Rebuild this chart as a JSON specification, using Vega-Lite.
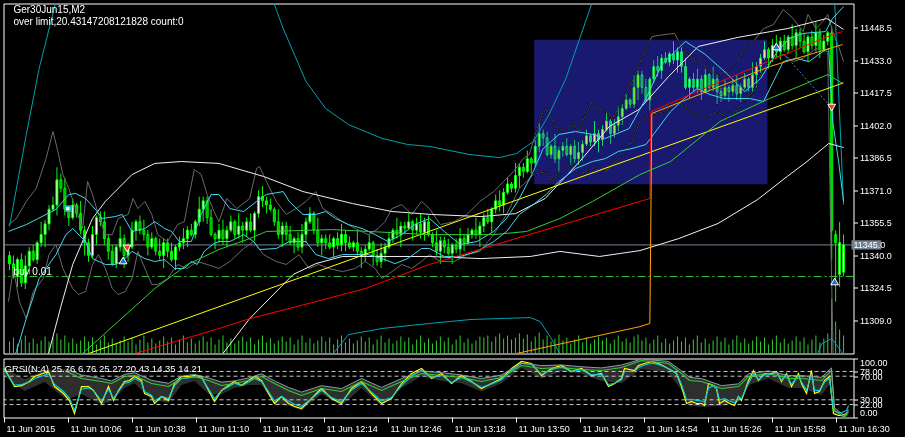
{
"$schema":"https://vega.github.io/schema/vega-lite/v6.json",
"background":"#000000",
"padding":{"left":2.5,"top":2.5,"right":13,"bottom":2},
"spacing":3,
"config":{"view":{"stroke":"#ffffff","strokeWidth":1},"font":"Liberation Sans","axis":{"labelColor":"#ffffff","tickColor":"#ffffff","domainColor":"#ffffff","labelFont":"Liberation Sans","labelFontSize":9,"grid":false,"translate":0,"title":null}},
"resolve":{"scale":{"color":"independent","strokeWidth":"independent"}},
"datasets":{
"C":[
{"i":0,"o":11340,"h":11342,"l":11333,"c":11336,"v":12},{"i":1,"o":11336,"h":11340,"l":11329,"c":11330,"v":16},{"i":2,"o":11330,"h":11339,"l":11325,"c":11338,"v":9},{"i":3,"o":11338,"h":11341,"l":11325,"c":11327,"v":14},{"i":4,"o":11327,"h":11340,"l":11324,"c":11335,"v":18},{"i":5,"o":11335,"h":11344,"l":11331,"c":11342,"v":11},{"i":6,"o":11342,"h":11345,"l":11337,"c":11338,"v":15},{"i":7,"o":11338,"h":11347,"l":11336,"c":11346,"v":10},{"i":8,"o":11346,"h":11356,"l":11344,"c":11350,"v":13},{"i":9,"o":11350,"h":11357,"l":11344,"c":11355,"v":17},
{"i":10,"o":11355,"h":11364,"l":11352,"c":11362,"v":12},{"i":11,"o":11362,"h":11368,"l":11361,"c":11364,"v":16},{"i":12,"o":11364,"h":11382,"l":11359,"c":11376,"v":20},{"i":13,"o":11376,"h":11379,"l":11370,"c":11372,"v":14},{"i":14,"o":11372,"h":11377,"l":11359,"c":11362,"v":18},{"i":15,"o":11362,"h":11364,"l":11354,"c":11358,"v":11},{"i":16,"o":11358,"h":11367,"l":11357,"c":11364,"v":15},{"i":17,"o":11364,"h":11365,"l":11358,"c":11360,"v":10},{"i":18,"o":11360,"h":11366,"l":11350,"c":11352,"v":13},{"i":19,"o":11352,"h":11354,"l":11340,"c":11346,"v":17},
{"i":20,"o":11346,"h":11348,"l":11337,"c":11340,"v":12},{"i":21,"o":11340,"h":11354,"l":11339,"c":11350,"v":16},{"i":22,"o":11350,"h":11359,"l":11345,"c":11358,"v":9},{"i":23,"o":11358,"h":11361,"l":11354,"c":11356,"v":14},{"i":24,"o":11356,"h":11361,"l":11345,"c":11348,"v":18},{"i":25,"o":11348,"h":11350,"l":11338,"c":11342,"v":11},{"i":26,"o":11342,"h":11345,"l":11335,"c":11336,"v":15},{"i":27,"o":11336,"h":11345,"l":11334,"c":11344,"v":10},{"i":28,"o":11344,"h":11354,"l":11342,"c":11348,"v":13},{"i":29,"o":11348,"h":11350,"l":11334,"c":11340,"v":17},
{"i":30,"o":11340,"h":11346,"l":11337,"c":11344,"v":12},{"i":31,"o":11344,"h":11356,"l":11343,"c":11352,"v":16},{"i":32,"o":11352,"h":11357,"l":11347,"c":11356,"v":9},{"i":33,"o":11356,"h":11359,"l":11350,"c":11352,"v":14},{"i":34,"o":11352,"h":11357,"l":11347,"c":11350,"v":18},{"i":35,"o":11350,"h":11352,"l":11340,"c":11344,"v":11},{"i":36,"o":11344,"h":11351,"l":11343,"c":11348,"v":15},{"i":37,"o":11348,"h":11349,"l":11340,"c":11342,"v":10},{"i":38,"o":11342,"h":11348,"l":11338,"c":11340,"v":13},{"i":39,"o":11340,"h":11348,"l":11334,"c":11346,"v":17},
{"i":40,"o":11346,"h":11348,"l":11339,"c":11342,"v":12},{"i":41,"o":11342,"h":11346,"l":11337,"c":11338,"v":16},{"i":42,"o":11338,"h":11345,"l":11333,"c":11344,"v":9},{"i":43,"o":11344,"h":11349,"l":11342,"c":11346,"v":14},{"i":44,"o":11346,"h":11353,"l":11343,"c":11348,"v":18},{"i":45,"o":11348,"h":11354,"l":11344,"c":11352,"v":11},{"i":46,"o":11352,"h":11355,"l":11349,"c":11350,"v":15},{"i":47,"o":11350,"h":11357,"l":11348,"c":11356,"v":10},{"i":48,"o":11356,"h":11368,"l":11354,"c":11362,"v":13},{"i":49,"o":11362,"h":11368,"l":11356,"c":11366,"v":17},
{"i":50,"o":11366,"h":11368,"l":11355,"c":11358,"v":12},{"i":51,"o":11358,"h":11362,"l":11349,"c":11350,"v":16},{"i":52,"o":11350,"h":11351,"l":11343,"c":11348,"v":9},{"i":53,"o":11348,"h":11355,"l":11346,"c":11352,"v":14},{"i":54,"o":11352,"h":11357,"l":11345,"c":11348,"v":18},{"i":55,"o":11348,"h":11354,"l":11344,"c":11352,"v":11},{"i":56,"o":11352,"h":11359,"l":11351,"c":11356,"v":15},{"i":57,"o":11356,"h":11357,"l":11348,"c":11350,"v":10},{"i":58,"o":11350,"h":11360,"l":11348,"c":11354,"v":13},{"i":59,"o":11354,"h":11356,"l":11346,"c":11352,"v":17},
{"i":60,"o":11352,"h":11358,"l":11349,"c":11356,"v":12},{"i":61,"o":11356,"h":11360,"l":11351,"c":11352,"v":16},{"i":62,"o":11352,"h":11361,"l":11347,"c":11360,"v":9},{"i":63,"o":11360,"h":11371,"l":11358,"c":11368,"v":14},{"i":64,"o":11368,"h":11373,"l":11363,"c":11366,"v":18},{"i":65,"o":11366,"h":11368,"l":11360,"c":11364,"v":11},{"i":66,"o":11364,"h":11367,"l":11361,"c":11362,"v":15},{"i":67,"o":11362,"h":11363,"l":11354,"c":11356,"v":10},{"i":68,"o":11356,"h":11362,"l":11348,"c":11350,"v":13},{"i":69,"o":11350,"h":11356,"l":11344,"c":11354,"v":17},
{"i":70,"o":11354,"h":11356,"l":11347,"c":11350,"v":12},{"i":71,"o":11350,"h":11354,"l":11345,"c":11346,"v":16},{"i":72,"o":11346,"h":11349,"l":11341,"c":11348,"v":9},{"i":73,"o":11348,"h":11351,"l":11342,"c":11344,"v":14},{"i":74,"o":11344,"h":11355,"l":11341,"c":11350,"v":18},{"i":75,"o":11350,"h":11358,"l":11346,"c":11356,"v":11},{"i":76,"o":11356,"h":11363,"l":11355,"c":11360,"v":15},{"i":77,"o":11360,"h":11361,"l":11350,"c":11352,"v":10},{"i":78,"o":11352,"h":11358,"l":11344,"c":11346,"v":13},{"i":79,"o":11346,"h":11350,"l":11340,"c":11348,"v":17},
{"i":80,"o":11348,"h":11350,"l":11343,"c":11346,"v":12},{"i":81,"o":11346,"h":11350,"l":11343,"c":11344,"v":16},{"i":82,"o":11344,"h":11349,"l":11339,"c":11348,"v":9},{"i":83,"o":11348,"h":11351,"l":11343,"c":11345,"v":14},{"i":84,"o":11345,"h":11355,"l":11342,"c":11350,"v":18},{"i":85,"o":11350,"h":11352,"l":11342,"c":11346,"v":11},{"i":86,"o":11346,"h":11349,"l":11343,"c":11344,"v":15},{"i":87,"o":11344,"h":11347,"l":11342,"c":11346,"v":10},{"i":88,"o":11346,"h":11352,"l":11340,"c":11342,"v":13},{"i":89,"o":11342,"h":11344,"l":11334,"c":11340,"v":17},
{"i":90,"o":11340,"h":11345,"l":11337,"c":11343,"v":12},{"i":91,"o":11343,"h":11350,"l":11342,"c":11346,"v":16},{"i":92,"o":11346,"h":11347,"l":11335,"c":11340,"v":9},{"i":93,"o":11340,"h":11343,"l":11335,"c":11337,"v":14},{"i":94,"o":11337,"h":11346,"l":11334,"c":11341,"v":18},{"i":95,"o":11341,"h":11346,"l":11337,"c":11344,"v":11},{"i":96,"o":11344,"h":11351,"l":11343,"c":11348,"v":15},{"i":97,"o":11348,"h":11353,"l":11346,"c":11352,"v":10},{"i":98,"o":11352,"h":11358,"l":11348,"c":11350,"v":13},{"i":99,"o":11350,"h":11356,"l":11344,"c":11354,"v":17},
{"i":100,"o":11354,"h":11356,"l":11350,"c":11353,"v":12},{"i":101,"o":11353,"h":11360,"l":11352,"c":11356,"v":16},{"i":102,"o":11356,"h":11357,"l":11347,"c":11352,"v":9},{"i":103,"o":11352,"h":11358,"l":11350,"c":11355,"v":14},{"i":104,"o":11355,"h":11360,"l":11348,"c":11351,"v":18},{"i":105,"o":11351,"h":11358,"l":11347,"c":11356,"v":11},{"i":106,"o":11356,"h":11359,"l":11349,"c":11350,"v":15},{"i":107,"o":11350,"h":11351,"l":11344,"c":11346,"v":10},{"i":108,"o":11346,"h":11352,"l":11340,"c":11342,"v":13},{"i":109,"o":11342,"h":11349,"l":11336,"c":11347,"v":17},
{"i":110,"o":11347,"h":11349,"l":11341,"c":11344,"v":12},{"i":111,"o":11344,"h":11348,"l":11340,"c":11341,"v":16},{"i":112,"o":11341,"h":11346,"l":11336,"c":11345,"v":9},{"i":113,"o":11345,"h":11348,"l":11341,"c":11343,"v":14},{"i":114,"o":11343,"h":11353,"l":11340,"c":11348,"v":18},{"i":115,"o":11348,"h":11350,"l":11342,"c":11346,"v":11},{"i":116,"o":11346,"h":11353,"l":11345,"c":11350,"v":15},{"i":117,"o":11350,"h":11353,"l":11348,"c":11352,"v":10},{"i":118,"o":11352,"h":11358,"l":11348,"c":11350,"v":13},{"i":119,"o":11350,"h":11356,"l":11344,"c":11354,"v":17},
{"i":120,"o":11354,"h":11360,"l":11351,"c":11358,"v":16},{"i":121,"o":11358,"h":11362,"l":11355,"c":11356,"v":18},{"i":122,"o":11356,"h":11363,"l":11351,"c":11362,"v":12},{"i":123,"o":11362,"h":11369,"l":11360,"c":11366,"v":17},{"i":124,"o":11366,"h":11371,"l":11361,"c":11364,"v":20},{"i":125,"o":11364,"h":11372,"l":11360,"c":11370,"v":15},{"i":126,"o":11370,"h":11377,"l":11369,"c":11374,"v":18},{"i":127,"o":11374,"h":11375,"l":11370,"c":11372,"v":14},{"i":128,"o":11372,"h":11384,"l":11370,"c":11378,"v":16},{"i":129,"o":11378,"h":11384,"l":11372,"c":11382,"v":20},
{"i":130,"o":11382,"h":11384,"l":11377,"c":11380,"v":15},{"i":131,"o":11380,"h":11390,"l":11379,"c":11386,"v":19},{"i":132,"o":11386,"h":11387,"l":11379,"c":11384,"v":12},{"i":133,"o":11384,"h":11395,"l":11382,"c":11392,"v":17},{"i":134,"o":11392,"h":11403,"l":11389,"c":11398,"v":21},{"i":135,"o":11398,"h":11400,"l":11392,"c":11396,"v":14},{"i":136,"o":11396,"h":11399,"l":11387,"c":11388,"v":18},{"i":137,"o":11388,"h":11393,"l":11386,"c":11392,"v":12},{"i":138,"o":11392,"h":11398,"l":11384,"c":11386,"v":15},{"i":139,"o":11386,"h":11392,"l":11380,"c":11390,"v":19},
{"i":140,"o":11390,"h":11394,"l":11387,"c":11392,"v":13},{"i":141,"o":11392,"h":11396,"l":11387,"c":11388,"v":16},{"i":142,"o":11388,"h":11393,"l":11383,"c":11392,"v":10},{"i":143,"o":11392,"h":11395,"l":11384,"c":11386,"v":14},{"i":144,"o":11386,"h":11394,"l":11383,"c":11389,"v":18},{"i":145,"o":11389,"h":11395,"l":11385,"c":11393,"v":11},{"i":146,"o":11393,"h":11400,"l":11392,"c":11397,"v":16},{"i":147,"o":11397,"h":11398,"l":11392,"c":11394,"v":10},{"i":148,"o":11394,"h":11404,"l":11392,"c":11398,"v":14},{"i":149,"o":11398,"h":11400,"l":11389,"c":11395,"v":17},
{"i":150,"o":11395,"h":11402,"l":11392,"c":11400,"v":13},{"i":151,"o":11400,"h":11408,"l":11399,"c":11404,"v":16},{"i":152,"o":11404,"h":11405,"l":11393,"c":11398,"v":10},{"i":153,"o":11398,"h":11405,"l":11396,"c":11402,"v":14},{"i":154,"o":11402,"h":11411,"l":11399,"c":11406,"v":18},{"i":155,"o":11406,"h":11412,"l":11402,"c":11410,"v":12},{"i":156,"o":11410,"h":11417,"l":11409,"c":11414,"v":15},{"i":157,"o":11414,"h":11415,"l":11410,"c":11412,"v":11},{"i":158,"o":11412,"h":11426,"l":11410,"c":11420,"v":17},{"i":159,"o":11420,"h":11428,"l":11414,"c":11426,"v":19},
{"i":160,"o":11426,"h":11428,"l":11417,"c":11420,"v":13},{"i":161,"o":11420,"h":11424,"l":11413,"c":11414,"v":16},{"i":162,"o":11414,"h":11425,"l":11409,"c":11424,"v":10},{"i":163,"o":11424,"h":11433,"l":11422,"c":11430,"v":14},{"i":164,"o":11430,"h":11435,"l":11425,"c":11428,"v":18},{"i":165,"o":11428,"h":11436,"l":11424,"c":11434,"v":11},{"i":166,"o":11434,"h":11437,"l":11431,"c":11432,"v":15},{"i":167,"o":11432,"h":11437,"l":11430,"c":11436,"v":10},{"i":168,"o":11436,"h":11442,"l":11431,"c":11433,"v":13},{"i":169,"o":11433,"h":11439,"l":11427,"c":11437,"v":17},
{"i":170,"o":11437,"h":11439,"l":11427,"c":11430,"v":12},{"i":171,"o":11430,"h":11434,"l":11419,"c":11420,"v":16},{"i":172,"o":11420,"h":11425,"l":11415,"c":11424,"v":9},{"i":173,"o":11424,"h":11427,"l":11418,"c":11420,"v":14},{"i":174,"o":11420,"h":11429,"l":11417,"c":11424,"v":18},{"i":175,"o":11424,"h":11426,"l":11414,"c":11418,"v":11},{"i":176,"o":11418,"h":11429,"l":11417,"c":11426,"v":15},{"i":177,"o":11426,"h":11427,"l":11418,"c":11420,"v":10},{"i":178,"o":11420,"h":11430,"l":11418,"c":11424,"v":13},{"i":179,"o":11424,"h":11426,"l":11412,"c":11418,"v":17},
{"i":180,"o":11418,"h":11420,"l":11413,"c":11416,"v":12},{"i":181,"o":11416,"h":11424,"l":11415,"c":11420,"v":16},{"i":182,"o":11420,"h":11421,"l":11413,"c":11418,"v":9},{"i":183,"o":11418,"h":11424,"l":11416,"c":11421,"v":14},{"i":184,"o":11421,"h":11426,"l":11414,"c":11417,"v":18},{"i":185,"o":11417,"h":11422,"l":11413,"c":11420,"v":11},{"i":186,"o":11420,"h":11427,"l":11419,"c":11424,"v":15},{"i":187,"o":11424,"h":11425,"l":11418,"c":11420,"v":10},{"i":188,"o":11420,"h":11432,"l":11418,"c":11426,"v":13},{"i":189,"o":11426,"h":11432,"l":11420,"c":11430,"v":17},
{"i":190,"o":11430,"h":11436,"l":11427,"c":11434,"v":12},{"i":191,"o":11434,"h":11442,"l":11433,"c":11438,"v":16},{"i":192,"o":11438,"h":11439,"l":11429,"c":11434,"v":9},{"i":193,"o":11434,"h":11443,"l":11432,"c":11440,"v":14},{"i":194,"o":11440,"h":11445,"l":11434,"c":11437,"v":18},{"i":195,"o":11437,"h":11444,"l":11433,"c":11442,"v":11},{"i":196,"o":11442,"h":11445,"l":11437,"c":11438,"v":15},{"i":197,"o":11438,"h":11445,"l":11436,"c":11444,"v":10},{"i":198,"o":11444,"h":11450,"l":11438,"c":11440,"v":13},{"i":199,"o":11440,"h":11448,"l":11434,"c":11446,"v":17},
{"i":200,"o":11446,"h":11448,"l":11439,"c":11442,"v":12},{"i":201,"o":11442,"h":11446,"l":11436,"c":11437,"v":16},{"i":202,"o":11437,"h":11445,"l":11432,"c":11444,"v":9},{"i":203,"o":11444,"h":11447,"l":11438,"c":11440,"v":14},{"i":204,"o":11440,"h":11451,"l":11437,"c":11446,"v":18},{"i":205,"o":11446,"h":11448,"l":11434,"c":11438,"v":11},{"i":206,"o":11438,"h":11445,"l":11437,"c":11442,"v":15},{"i":207,"o":11442,"h":11447,"l":11440,"c":11446,"v":20},{"i":208,"o":11446,"h":11449,"l":11338,"c":11352,"v":55},{"i":209,"o":11350,"h":11352,"l":11318,"c":11346,"v":32},
{"i":210,"o":11331,"h":11356,"l":11325,"c":11346,"v":24},{"i":211,"o":11332,"h":11350,"l":11330,"c":11345,"v":18}
],
"L":[
{"s":"W1","i":8,"p":11277.6},{"s":"W1","i":10,"p":11294.2},{"s":"W1","i":13,"p":11315.7},{"s":"W1","i":16,"p":11335.7},{"s":"W1","i":21,"p":11357.6},{"s":"W1","i":24.25,"p":11365.7},{"s":"W1","i":31,"p":11378.5},{"s":"W1","i":36.75,"p":11383.8},{"s":"W1","i":43.5,"p":11384.7},{"s":"W1","i":53,"p":11383.8},{"s":"W1","i":64.25,"p":11377.6},{"s":"W1","i":74.25,"p":11370.4},{"s":"W1","i":86.75,"p":11364.7},{"s":"W1","i":96.75,"p":11360.9},{"s":"W1","i":106.75,"p":11359.5},{"s":"W1","i":119.25,"p":11358.5},{"s":"W1","i":128,"p":11359.9},{"s":"W1","i":135.5,"p":11367.1},{"s":"W1","i":144.25,"p":11384.7},{"s":"W1","i":151.75,"p":11401.4},{"s":"W1","i":159.25,"p":11409.5},{"s":"W1","i":166.75,"p":11425.2},{"s":"W1","i":174.25,"p":11439.5},{"s":"W1","i":184.25,"p":11443.8},{"s":"W1","i":196.75,"p":11448.0},{"s":"W1","i":206.75,"p":11452.8},{"s":"W1","i":211,"p":11447.6},
{"s":"W2","i":50.5,"p":11284.7},{"s":"W2","i":60.75,"p":11309.9},{"s":"W2","i":71.75,"p":11330.9},{"s":"W2","i":77.5,"p":11336.1},{"s":"W2","i":84.25,"p":11339.5},{"s":"W2","i":106.25,"p":11339.5},{"s":"W2","i":119.25,"p":11338.5},{"s":"W2","i":131.75,"p":11339.5},{"s":"W2","i":139.25,"p":11341.9},{"s":"W2","i":149.25,"p":11339.5},{"s":"W2","i":159.5,"p":11342.3},{"s":"W2","i":169.25,"p":11348.0},{"s":"W2","i":179.25,"p":11355.2},{"s":"W2","i":189.25,"p":11366.6},{"s":"W2","i":196.75,"p":11377.6},{"s":"W2","i":201.75,"p":11384.7},{"s":"W2","i":207.25,"p":11393.3},{"s":"W2","i":211,"p":11391.4},
{"s":"T1","i":0,"p":11353.8},{"s":"T1","i":4.25,"p":11397.6},{"s":"T1","i":7.5,"p":11429.0},{"s":"T1","i":11.75,"p":11460.9},{"s":"T1","i":20,"p":11560},{"s":"T1","i":40,"p":11620},{"s":"T1","i":60,"p":11560},{"s":"T1","i":66.75,"p":11460.9},{"s":"T1","i":69.25,"p":11448.0},{"s":"T1","i":75,"p":11422.8},{"s":"T1","i":80,"p":11409.9},{"s":"T1","i":85.75,"p":11402.3},{"s":"T1","i":94.25,"p":11395.7},{"s":"T1","i":100.75,"p":11392.8},{"s":"T1","i":106.25,"p":11391.9},{"s":"T1","i":116.5,"p":11388.0},{"s":"T1","i":124,"p":11386.6},{"s":"T1","i":128.25,"p":11388.5},{"s":"T1","i":132.5,"p":11394.2},{"s":"T1","i":136.5,"p":11407.1},{"s":"T1","i":140.75,"p":11424.2},{"s":"T1","i":144,"p":11441.9},{"s":"T1","i":147.5,"p":11460.9},{"s":"T1","i":160,"p":11540},{"s":"T1","i":190,"p":11560},{"s":"T1","i":206,"p":11530},{"s":"T1","i":208.75,"p":11460.9},{"s":"T1","i":211,"p":11364.2},
{"s":"T2a","i":79.25,"p":11287.1},{"s":"T2a","i":85.75,"p":11302.3},{"s":"T2a","i":94.25,"p":11305.2},{"s":"T2a","i":106.25,"p":11307.6},{"s":"T2a","i":116.75,"p":11309.5},{"s":"T2a","i":131.75,"p":11310.4},{"s":"T2a","i":134.25,"p":11308.5},{"s":"T2a","i":136.75,"p":11301.4},{"s":"T2a","i":139.25,"p":11293.3},{"s":"T2a","i":141.75,"p":11284.7},
{"s":"T2b","i":203,"p":11287.1},{"s":"T2b","i":205.5,"p":11298.0},{"s":"T2b","i":208,"p":11300.4},{"s":"T2b","i":210.5,"p":11294.2},{"s":"T2b","i":211.75,"p":11287.1},
{"s":"CU","i":-0.25,"p":11351.4},{"s":"CU","i":4.25,"p":11354.7},{"s":"CU","i":9.25,"p":11359.5},{"s":"CU","i":11.75,"p":11361.9},{"s":"CU","i":15,"p":11369.0},{"s":"CU","i":16.75,"p":11369.5},{"s":"CU","i":19.25,"p":11367.1},{"s":"CU","i":21.75,"p":11361.9},{"s":"CU","i":23.5,"p":11357.6},{"s":"CU","i":26.75,"p":11358.5},{"s":"CU","i":28.5,"p":11359.5},{"s":"CU","i":31,"p":11351.4},{"s":"CU","i":34.25,"p":11352.8},{"s":"CU","i":36.75,"p":11356.1},{"s":"CU","i":39.25,"p":11352.8},{"s":"CU","i":41,"p":11351.4},{"s":"CU","i":43,"p":11346.6},{"s":"CU","i":46,"p":11346.6},{"s":"CU","i":48.5,"p":11359.5},{"s":"CU","i":51,"p":11369.0},{"s":"CU","i":53,"p":11369.0},{"s":"CU","i":55.75,"p":11362.3},{"s":"CU","i":59.25,"p":11360.9},{"s":"CU","i":62.5,"p":11365.7},{"s":"CU","i":65,"p":11369.0},{"s":"CU","i":69.25,"p":11370.4},{"s":"CU","i":70.75,"p":11365.7},{"s":"CU","i":74.25,"p":11359.5},{"s":"CU","i":77.5,"p":11359.5},{"s":"CU","i":80,"p":11360.9},{"s":"CU","i":82.5,"p":11357.6},{"s":"CU","i":85.75,"p":11354.7},{"s":"CU","i":89.25,"p":11352.8},{"s":"CU","i":92.5,"p":11349.9},{"s":"CU","i":95.75,"p":11346.6},{"s":"CU","i":99.25,"p":11349.9},{"s":"CU","i":102.5,"p":11354.7},{"s":"CU","i":106.25,"p":11357.6},{"s":"CU","i":110,"p":11351.4},{"s":"CU","i":114,"p":11345.2},{"s":"CU","i":118.25,"p":11346.6},{"s":"CU","i":122.5,"p":11351.4},{"s":"CU","i":125.75,"p":11357.6},{"s":"CU","i":129,"p":11367.1},{"s":"CU","i":132.5,"p":11379.9},{"s":"CU","i":135,"p":11390.9},{"s":"CU","i":139,"p":11397.6},{"s":"CU","i":143.25,"p":11399.0},{"s":"CU","i":147.5,"p":11397.6},{"s":"CU","i":150.75,"p":11395.7},{"s":"CU","i":156.75,"p":11400.4},{"s":"CU","i":161,"p":11414.7},{"s":"CU","i":165,"p":11430.9},{"s":"CU","i":171,"p":11441.9},{"s":"CU","i":176,"p":11435.7},{"s":"CU","i":181.75,"p":11426.1},{"s":"CU","i":186,"p":11418.0},{"s":"CU","i":190,"p":11424.2},{"s":"CU","i":194.25,"p":11437.1},{"s":"CU","i":197.25,"p":11443.3},{"s":"CU","i":200.75,"p":11445.7},{"s":"CU","i":206.5,"p":11446.6},{"s":"CU","i":208,"p":11452.3},{"s":"CU","i":211,"p":11458.5},
{"s":"CL","i":0,"p":11287},{"s":"CL","i":1.75,"p":11294.2},{"s":"CL","i":4.25,"p":11310.0},{"s":"CL","i":7.5,"p":11329.0},{"s":"CL","i":11.75,"p":11340.4},{"s":"CL","i":14.25,"p":11349.9},{"s":"CL","i":16,"p":11352.8},{"s":"CL","i":19.25,"p":11346.6},{"s":"CL","i":21,"p":11338.5},{"s":"CL","i":24.25,"p":11335.7},{"s":"CL","i":26.75,"p":11335.7},{"s":"CL","i":28.5,"p":11337.1},{"s":"CL","i":31,"p":11341.9},{"s":"CL","i":34.25,"p":11338.5},{"s":"CL","i":36.75,"p":11337.1},{"s":"CL","i":39.25,"p":11338.0},{"s":"CL","i":41.75,"p":11333.8},{"s":"CL","i":44.25,"p":11333.8},{"s":"CL","i":46,"p":11337.1},{"s":"CL","i":47.5,"p":11335.7},{"s":"CL","i":49.25,"p":11341.9},{"s":"CL","i":51.75,"p":11345.7},{"s":"CL","i":53,"p":11346.6},{"s":"CL","i":55.75,"p":11346.6},{"s":"CL","i":59.25,"p":11349.9},{"s":"CL","i":61.75,"p":11346.6},{"s":"CL","i":63.25,"p":11342.8},{"s":"CL","i":67.5,"p":11343.3},{"s":"CL","i":70.75,"p":11346.6},{"s":"CL","i":75,"p":11346.6},{"s":"CL","i":77.5,"p":11340.4},{"s":"CL","i":80.75,"p":11338.5},{"s":"CL","i":84.25,"p":11340.4},{"s":"CL","i":90.75,"p":11340.4},{"s":"CL","i":94.25,"p":11338.5},{"s":"CL","i":97.5,"p":11336.1},{"s":"CL","i":100.75,"p":11338.5},{"s":"CL","i":104.25,"p":11343.3},{"s":"CL","i":106.25,"p":11343.3},{"s":"CL","i":110,"p":11339.5},{"s":"CL","i":114,"p":11339.5},{"s":"CL","i":118.25,"p":11341.9},{"s":"CL","i":122.5,"p":11346.6},{"s":"CL","i":125.75,"p":11351.4},{"s":"CL","i":129,"p":11359.5},{"s":"CL","i":132.5,"p":11364.2},{"s":"CL","i":135.75,"p":11369.0},{"s":"CL","i":139,"p":11375.2},{"s":"CL","i":143.25,"p":11381.4},{"s":"CL","i":147.5,"p":11384.7},{"s":"CL","i":150.75,"p":11386.1},{"s":"CL","i":154,"p":11389.5},{"s":"CL","i":157.5,"p":11390.9},{"s":"CL","i":161,"p":11392.8},{"s":"CL","i":167.25,"p":11408.5},{"s":"CL","i":170.75,"p":11414.7},{"s":"CL","i":174,"p":11419.5},{"s":"CL","i":177.25,"p":11416.6},{"s":"CL","i":180.75,"p":11414.7},{"s":"CL","i":187.25,"p":11414.7},{"s":"CL","i":190.75,"p":11413.3},{"s":"CL","i":195.75,"p":11432.3},{"s":"CL","i":199,"p":11433.8},{"s":"CL","i":202.25,"p":11432.3},{"s":"CL","i":205.75,"p":11437.1},{"s":"CL","i":207.25,"p":11438.5},{"s":"CL","i":208.25,"p":11403.8},{"s":"CL","i":209.75,"p":11384.7},{"s":"CL","i":211,"p":11365.7},
{"s":"Y","i":10,"p":11286.5},{"s":"Y","i":60,"p":11320.3},{"s":"Y","i":106.25,"p":11351.5},{"s":"Y","i":159.5,"p":11387.4},{"s":"Y","i":211,"p":11422.2},
{"s":"R","i":24.25,"p":11284.7},{"s":"R","i":31.75,"p":11293.3},{"s":"R","i":53,"p":11305.2},{"s":"R","i":60.75,"p":11309.9},{"s":"R","i":77.5,"p":11318.0},{"s":"R","i":90,"p":11324.2},{"s":"R","i":106.25,"p":11335.7},{"s":"R","i":159.5,"p":11365.7},{"s":"R","i":162,"p":11367.1},{"s":"R","i":162.25,"p":11408.5},{"s":"R","i":184,"p":11426.1},{"s":"R","i":208.25,"p":11445.2},{"s":"R","i":210.75,"p":11446.6},
{"s":"O","i":125.5,"p":11287.1},{"s":"O","i":128.25,"p":11293.3},{"s":"O","i":159.5,"p":11306.1},{"s":"O","i":162,"p":11307.6},{"s":"O","i":162.5,"p":11407.6},{"s":"O","i":192.25,"p":11429.9},{"s":"O","i":210.75,"p":11440.4},
{"s":"G","i":16.75,"p":11284.7},{"s":"G","i":18.5,"p":11293.3},{"s":"G","i":36.75,"p":11324.2},{"s":"G","i":45,"p":11335.7},{"s":"G","i":53,"p":11342.8},{"s":"G","i":60.75,"p":11348.0},{"s":"G","i":65,"p":11351.4},{"s":"G","i":81.75,"p":11352.3},{"s":"G","i":106.25,"p":11349.9},{"s":"G","i":122.5,"p":11349.9},{"s":"G","i":130.75,"p":11351.4},{"s":"G","i":139.25,"p":11357.6},{"s":"G","i":147.5,"p":11365.7},{"s":"G","i":159.5,"p":11378.5},{"s":"G","i":167.25,"p":11384.7},{"s":"G","i":179.75,"p":11403.8},{"s":"G","i":192.25,"p":11414.7},{"s":"G","i":207,"p":11426.1},{"s":"G","i":210.75,"p":11421.9}
],
"GR":[
{"s":"GU","i":-0.25,"p":11354.7},{"s":"GU","i":1.75,"p":11357.6},{"s":"GU","i":4.25,"p":11365.7},{"s":"GU","i":6.75,"p":11371.9},{"s":"GU","i":9.25,"p":11386.1},{"s":"GU","i":11,"p":11399.0},{"s":"GU","i":12.25,"p":11389.5},{"s":"GU","i":13.5,"p":11378.5},{"s":"GU","i":15,"p":11371.9},{"s":"GU","i":16.75,"p":11362.3},{"s":"GU","i":18.5,"p":11352.8},{"s":"GU","i":19.75,"p":11375.2},{"s":"GU","i":21,"p":11369.0},{"s":"GU","i":22.5,"p":11359.5},{"s":"GU","i":24.25,"p":11349.9},{"s":"GU","i":26,"p":11349.9},{"s":"GU","i":27.5,"p":11357.6},{"s":"GU","i":30,"p":11359.5},{"s":"GU","i":31.25,"p":11367.1},{"s":"GU","i":32.5,"p":11362.3},{"s":"GU","i":34.25,"p":11365.7},{"s":"GU","i":36,"p":11359.5},{"s":"GU","i":37.5,"p":11349.9},{"s":"GU","i":40,"p":11346.6},{"s":"GU","i":42.5,"p":11354.7},{"s":"GU","i":44.25,"p":11356.1},{"s":"GU","i":45.5,"p":11369.0},{"s":"GU","i":46.75,"p":11380.9},{"s":"GU","i":48.5,"p":11378.5},{"s":"GU","i":50,"p":11369.0},{"s":"GU","i":51.75,"p":11360.9},{"s":"GU","i":53,"p":11356.1},{"s":"GU","i":55,"p":11367.1},{"s":"GU","i":57.5,"p":11362.3},{"s":"GU","i":60.75,"p":11367.1},{"s":"GU","i":62.5,"p":11381.4},{"s":"GU","i":63.25,"p":11382.3},{"s":"GU","i":65,"p":11375.2},{"s":"GU","i":67.5,"p":11365.7},{"s":"GU","i":70,"p":11359.5},{"s":"GU","i":72.5,"p":11362.3},{"s":"GU","i":75,"p":11365.7},{"s":"GU","i":77.5,"p":11370.4},{"s":"GU","i":79.25,"p":11362.3},{"s":"GU","i":81.75,"p":11359.5},{"s":"GU","i":84.25,"p":11356.1},{"s":"GU","i":87.5,"p":11352.8},{"s":"GU","i":90.75,"p":11349.9},{"s":"GU","i":93.25,"p":11352.8},{"s":"GU","i":95,"p":11356.1},{"s":"GU","i":96.75,"p":11362.3},{"s":"GU","i":99.25,"p":11364.2},{"s":"GU","i":101.75,"p":11359.5},{"s":"GU","i":104.25,"p":11365.7},{"s":"GU","i":106.25,"p":11362.3},{"s":"GU","i":109,"p":11354.7},{"s":"GU","i":112.5,"p":11356.1},{"s":"GU","i":115.75,"p":11359.5},{"s":"GU","i":119,"p":11365.7},{"s":"GU","i":122.5,"p":11370.4},{"s":"GU","i":125,"p":11375.2},{"s":"GU","i":127.5,"p":11379.9},{"s":"GU","i":130,"p":11386.1},{"s":"GU","i":131.5,"p":11388.0},{"s":"GU","i":133.25,"p":11399.0},{"s":"GU","i":135,"p":11408.5},{"s":"GU","i":135.75,"p":11409.9},{"s":"GU","i":137.5,"p":11403.8},{"s":"GU","i":139,"p":11399.0},{"s":"GU","i":140.75,"p":11400.4},{"s":"GU","i":142.5,"p":11402.3},{"s":"GU","i":144,"p":11399.0},{"s":"GU","i":145.75,"p":11407.1},{"s":"GU","i":147.5,"p":11413.3},{"s":"GU","i":149,"p":11409.9},{"s":"GU","i":150.75,"p":11408.5},{"s":"GU","i":152.5,"p":11405.2},{"s":"GU","i":154,"p":11409.9},{"s":"GU","i":155.75,"p":11416.6},{"s":"GU","i":157.5,"p":11422.8},{"s":"GU","i":158.75,"p":11428.5},{"s":"GU","i":160.75,"p":11437.1},{"s":"GU","i":162.5,"p":11444.2},{"s":"GU","i":165.75,"p":11445.2},{"s":"GU","i":168.25,"p":11445.7},{"s":"GU","i":169.75,"p":11440.4},{"s":"GU","i":171.5,"p":11435.7},{"s":"GU","i":174,"p":11432.3},{"s":"GU","i":176.5,"p":11429.0},{"s":"GU","i":179,"p":11426.1},{"s":"GU","i":181.5,"p":11427.6},{"s":"GU","i":184,"p":11432.3},{"s":"GU","i":186.5,"p":11440.4},{"s":"GU","i":188.25,"p":11441.9},{"s":"GU","i":190.75,"p":11448.0},{"s":"GU","i":193.25,"p":11449.9},{"s":"GU","i":195.75,"p":11457.1},{"s":"GU","i":198.25,"p":11452.8},{"s":"GU","i":200.75,"p":11446.6},{"s":"GU","i":202,"p":11454.7},{"s":"GU","i":204,"p":11448.0},{"s":"GU","i":205.75,"p":11451.4},{"s":"GU","i":207,"p":11454.7},{"s":"GU","i":208.25,"p":11446.6},{"s":"GU","i":209.75,"p":11439.5},{"s":"GU","i":211,"p":11432.3},
{"s":"GL","i":-0.25,"p":11318.0},{"s":"GL","i":1,"p":11333.8},{"s":"GL","i":2.5,"p":11318.0},{"s":"GL","i":4.25,"p":11310.0},{"s":"GL","i":6,"p":11322.8},{"s":"GL","i":8.5,"p":11329.0},{"s":"GL","i":10,"p":11340.4},{"s":"GL","i":11.75,"p":11345.2},{"s":"GL","i":13.5,"p":11333.8},{"s":"GL","i":16,"p":11324.2},{"s":"GL","i":17.5,"p":11321.4},{"s":"GL","i":19.25,"p":11322.8},{"s":"GL","i":21,"p":11335.7},{"s":"GL","i":22.5,"p":11340.4},{"s":"GL","i":24.25,"p":11333.8},{"s":"GL","i":26,"p":11324.2},{"s":"GL","i":27.5,"p":11321.4},{"s":"GL","i":29.25,"p":11322.8},{"s":"GL","i":31,"p":11329.0},{"s":"GL","i":32.5,"p":11341.9},{"s":"GL","i":34.25,"p":11333.8},{"s":"GL","i":36,"p":11326.1},{"s":"GL","i":37.5,"p":11326.1},{"s":"GL","i":40,"p":11329.0},{"s":"GL","i":42.5,"p":11335.7},{"s":"GL","i":45,"p":11333.8},{"s":"GL","i":47.5,"p":11337.1},{"s":"GL","i":50,"p":11335.7},{"s":"GL","i":53,"p":11333.8},{"s":"GL","i":55.75,"p":11337.1},{"s":"GL","i":59.25,"p":11343.3},{"s":"GL","i":61.75,"p":11346.6},{"s":"GL","i":64.25,"p":11340.4},{"s":"GL","i":67.5,"p":11337.1},{"s":"GL","i":70,"p":11335.7},{"s":"GL","i":73.25,"p":11340.4},{"s":"GL","i":75.75,"p":11333.8},{"s":"GL","i":78.25,"p":11335.7},{"s":"GL","i":80.75,"p":11333.8},{"s":"GL","i":84.25,"p":11332.3},{"s":"GL","i":87.5,"p":11333.8},{"s":"GL","i":90,"p":11337.1},{"s":"GL","i":92.5,"p":11333.8},{"s":"GL","i":94.25,"p":11329.0},{"s":"GL","i":96.75,"p":11332.3},{"s":"GL","i":99.25,"p":11335.7},{"s":"GL","i":101.75,"p":11333.8},{"s":"GL","i":104.25,"p":11337.1},{"s":"GL","i":106.25,"p":11340.4},{"s":"GL","i":109,"p":11337.1},{"s":"GL","i":112.5,"p":11337.1},{"s":"GL","i":115.75,"p":11340.4},{"s":"GL","i":119,"p":11341.9},{"s":"GL","i":122.5,"p":11349.9},{"s":"GL","i":125.75,"p":11359.5},{"s":"GL","i":129,"p":11371.9},{"s":"GL","i":132.5,"p":11378.5},{"s":"GL","i":135.75,"p":11379.9},{"s":"GL","i":137.5,"p":11375.2},{"s":"GL","i":139,"p":11379.9},{"s":"GL","i":141.5,"p":11384.7},{"s":"GL","i":144,"p":11378.5},{"s":"GL","i":147.5,"p":11381.4},{"s":"GL","i":150.75,"p":11379.9},{"s":"GL","i":154,"p":11386.1},{"s":"GL","i":157.5,"p":11394.2},{"s":"GL","i":159.5,"p":11403.8},{"s":"GL","i":162.25,"p":11407.1},{"s":"GL","i":165.75,"p":11408.5},{"s":"GL","i":169,"p":11413.3},{"s":"GL","i":172.25,"p":11408.5},{"s":"GL","i":175.75,"p":11405.2},{"s":"GL","i":179,"p":11408.5},{"s":"GL","i":182.25,"p":11405.2},{"s":"GL","i":185.75,"p":11413.3},{"s":"GL","i":188.25,"p":11418.0},{"s":"GL","i":190.75,"p":11429.0},{"s":"GL","i":193.25,"p":11433.8},{"s":"GL","i":195.75,"p":11435.7},{"s":"GL","i":198.25,"p":11432.3},{"s":"GL","i":200.75,"p":11433.8},{"s":"GL","i":204,"p":11438.5},{"s":"GL","i":207,"p":11437.1},{"s":"GL","i":207.75,"p":11349.9},{"s":"GL","i":208.5,"p":11280}
],
"Q":[
{"g":"Y","i":0,"v":83},{"g":"Y","i":2.5,"v":52.5},{"g":"Y","i":4.25,"v":54},{"g":"Y","i":6.25,"v":61},{"g":"Y","i":7.5,"v":69.5},{"g":"Y","i":11,"v":78},{"g":"Y","i":12.5,"v":52.5},{"g":"Y","i":14.75,"v":40.7},{"g":"Y","i":16.25,"v":28.8},{"g":"Y","i":17.5,"v":6.8},{"g":"Y","i":19.25,"v":52.5},{"g":"Y","i":21,"v":52.5},{"g":"Y","i":22.25,"v":45.8},{"g":"Y","i":24.25,"v":23.7},{"g":"Y","i":26,"v":52.5},{"g":"Y","i":27.25,"v":28.8},{"g":"Y","i":28.5,"v":45.8},{"g":"Y","i":30,"v":61},{"g":"Y","i":31.25,"v":62.7},{"g":"Y","i":32.5,"v":69.5},{"g":"Y","i":34.25,"v":62.7},{"g":"Y","i":35,"v":40.7},{"g":"Y","i":36.75,"v":35.6},{"g":"Y","i":37.5,"v":23.7},{"g":"Y","i":39.25,"v":35.6},{"g":"Y","i":41,"v":28.8},{"g":"Y","i":42.5,"v":57.6},{"g":"Y","i":44.25,"v":69.5},{"g":"Y","i":46,"v":69.5},{"g":"Y","i":47.5,"v":71.2},{"g":"Y","i":49.25,"v":69.5},{"g":"Y","i":50.5,"v":52.5},{"g":"Y","i":52.5,"v":27.1},{"g":"Y","i":54.25,"v":45.8},{"g":"Y","i":56,"v":54.2},{"g":"Y","i":57.5,"v":61},{"g":"Y","i":59.25,"v":54.2},{"g":"Y","i":61,"v":62.7},{"g":"Y","i":62.5,"v":69.5},{"g":"Y","i":64.25,"v":62.7},{"g":"Y","i":66,"v":40.7},{"g":"Y","i":67.5,"v":23.7},{"g":"Y","i":69.25,"v":35.6},{"g":"Y","i":71,"v":23.7},{"g":"Y","i":72.5,"v":18.6},{"g":"Y","i":74.25,"v":15.3},{"g":"Y","i":76.75,"v":32.2},{"g":"Y","i":79.25,"v":49.2},{"g":"Y","i":81.75,"v":32.2},{"g":"Y","i":84.25,"v":23.7},{"g":"Y","i":86.75,"v":49.2},{"g":"Y","i":89.25,"v":61},{"g":"Y","i":91.75,"v":40.7},{"g":"Y","i":94.25,"v":23.7},{"g":"Y","i":96.75,"v":32.2},{"g":"Y","i":99.25,"v":57.6},{"g":"Y","i":101.75,"v":74.6},{"g":"Y","i":104.25,"v":83},{"g":"Y","i":106.75,"v":66.1},{"g":"Y","i":109.25,"v":74.6},{"g":"Y","i":111.75,"v":57.6},{"g":"Y","i":114.25,"v":71.2},{"g":"Y","i":116.75,"v":61},{"g":"Y","i":119.25,"v":49.2},{"g":"Y","i":121.75,"v":57.6},{"g":"Y","i":124.25,"v":66.1},{"g":"Y","i":126.75,"v":83},{"g":"Y","i":129.25,"v":94.9},{"g":"Y","i":131.75,"v":91.5},{"g":"Y","i":134.25,"v":71.2},{"g":"Y","i":136.75,"v":83},{"g":"Y","i":139.25,"v":88.1},{"g":"Y","i":141.75,"v":78},{"g":"Y","i":144.25,"v":83},{"g":"Y","i":146.75,"v":71.2},{"g":"Y","i":149.25,"v":74.6},{"g":"Y","i":151,"v":52.5},{"g":"Y","i":152.5,"v":57.6},{"g":"Y","i":154.25,"v":66.1},{"g":"Y","i":155,"v":83},{"g":"Y","i":157.5,"v":79.7},{"g":"Y","i":158.5,"v":88.1},{"g":"Y","i":160,"v":91.5},{"g":"Y","i":161.75,"v":94.9},{"g":"Y","i":163.5,"v":91.5},{"g":"Y","i":165,"v":86.4},{"g":"Y","i":166.75,"v":79.7},{"g":"Y","i":168,"v":74.6},{"g":"Y","i":169.25,"v":52.5},{"g":"Y","i":170.5,"v":23.7},{"g":"Y","i":171.75,"v":27.1},{"g":"Y","i":173,"v":23.7},{"g":"Y","i":174.25,"v":23.7},{"g":"Y","i":175,"v":20.3},{"g":"Y","i":176,"v":57.6},{"g":"Y","i":177.25,"v":54.2},{"g":"Y","i":178,"v":49.2},{"g":"Y","i":178.75,"v":23.7},{"g":"Y","i":180,"v":28.8},{"g":"Y","i":181.25,"v":23.7},{"g":"Y","i":182.5,"v":20.3},{"g":"Y","i":183.5,"v":35.6},{"g":"Y","i":184.25,"v":28.8},{"g":"Y","i":186,"v":62.7},{"g":"Y","i":187.25,"v":79.7},{"g":"Y","i":188.5,"v":62.7},{"g":"Y","i":190,"v":74.6},{"g":"Y","i":191.75,"v":74.6},{"g":"Y","i":193,"v":78},{"g":"Y","i":194.25,"v":61},{"g":"Y","i":195.5,"v":74.6},{"g":"Y","i":196.75,"v":52.5},{"g":"Y","i":198.5,"v":74.6},{"g":"Y","i":199.25,"v":57.6},{"g":"Y","i":200.5,"v":40.7},{"g":"Y","i":201.75,"v":79.7},{"g":"Y","i":202.5,"v":40.7},{"g":"Y","i":203.75,"v":44.1},{"g":"Y","i":205,"v":62.7},{"g":"Y","i":206.25,"v":69.5},{"g":"Y","i":207.25,"v":6.8},{"g":"Y","i":208.5,"v":3.4},{"g":"Y","i":209.25,"v":3.4},{"g":"Y","i":210.5,"v":6.8},
{"g":"C","i":0,"v":80},{"g":"C","i":2.5,"v":55},{"g":"C","i":4.25,"v":56},{"g":"C","i":6.25,"v":60},{"g":"C","i":7.5,"v":66},{"g":"C","i":11,"v":74},{"g":"C","i":12.5,"v":56},{"g":"C","i":14.75,"v":44},{"g":"C","i":16.25,"v":33},{"g":"C","i":17.5,"v":12},{"g":"C","i":19.25,"v":48},{"g":"C","i":21,"v":50},{"g":"C","i":22.25,"v":46},{"g":"C","i":24.25,"v":28},{"g":"C","i":26,"v":48},{"g":"C","i":27.25,"v":32},{"g":"C","i":28.5,"v":44},{"g":"C","i":30,"v":58},{"g":"C","i":31.25,"v":60},{"g":"C","i":32.5,"v":66},{"g":"C","i":34.25,"v":60},{"g":"C","i":35,"v":44},{"g":"C","i":36.75,"v":38},{"g":"C","i":37.5,"v":28},{"g":"C","i":39.25,"v":36},{"g":"C","i":41,"v":32},{"g":"C","i":42.5,"v":54},{"g":"C","i":44.25,"v":66},{"g":"C","i":46,"v":67},{"g":"C","i":47.5,"v":69},{"g":"C","i":49.25,"v":67},{"g":"C","i":50.5,"v":54},{"g":"C","i":52.5,"v":32},{"g":"C","i":54.25,"v":46},{"g":"C","i":56,"v":52},{"g":"C","i":57.5,"v":58},{"g":"C","i":59.25,"v":54},{"g":"C","i":61,"v":60},{"g":"C","i":62.5,"v":66},{"g":"C","i":64.25,"v":61},{"g":"C","i":66,"v":44},{"g":"C","i":67.5,"v":28},{"g":"C","i":69.25,"v":36},{"g":"C","i":71,"v":28},{"g":"C","i":72.5,"v":22},{"g":"C","i":74.25,"v":19},{"g":"C","i":76.75,"v":32},{"g":"C","i":79.25,"v":46},{"g":"C","i":81.75,"v":34},{"g":"C","i":84.25,"v":27},{"g":"C","i":86.75,"v":46},{"g":"C","i":89.25,"v":58},{"g":"C","i":91.75,"v":43},{"g":"C","i":94.25,"v":28},{"g":"C","i":96.75,"v":34},{"g":"C","i":99.25,"v":54},{"g":"C","i":101.75,"v":70},{"g":"C","i":104.25,"v":80},{"g":"C","i":106.75,"v":67},{"g":"C","i":109.25,"v":72},{"g":"C","i":111.75,"v":59},{"g":"C","i":114.25,"v":68},{"g":"C","i":116.75,"v":60},{"g":"C","i":119.25,"v":51},{"g":"C","i":121.75,"v":57},{"g":"C","i":124.25,"v":64},{"g":"C","i":126.75,"v":80},{"g":"C","i":129.25,"v":92},{"g":"C","i":131.75,"v":90},{"g":"C","i":134.25,"v":73},{"g":"C","i":136.75,"v":81},{"g":"C","i":139.25,"v":86},{"g":"C","i":141.75,"v":78},{"g":"C","i":144.25,"v":81},{"g":"C","i":146.75,"v":72},{"g":"C","i":149.25,"v":73},{"g":"C","i":151,"v":56},{"g":"C","i":152.5,"v":58},{"g":"C","i":154.25,"v":64},{"g":"C","i":155,"v":78},{"g":"C","i":157.5,"v":78},{"g":"C","i":158.5,"v":85},{"g":"C","i":160,"v":89},{"g":"C","i":161.75,"v":92},{"g":"C","i":163.5,"v":90},{"g":"C","i":165,"v":86},{"g":"C","i":166.75,"v":80},{"g":"C","i":168,"v":75},{"g":"C","i":169.25,"v":56},{"g":"C","i":170.5,"v":30},{"g":"C","i":171.75,"v":31},{"g":"C","i":173,"v":29},{"g":"C","i":174.25,"v":28},{"g":"C","i":175,"v":26},{"g":"C","i":176,"v":50},{"g":"C","i":177.25,"v":54},{"g":"C","i":178,"v":50},{"g":"C","i":178.75,"v":30},{"g":"C","i":180,"v":32},{"g":"C","i":181.25,"v":28},{"g":"C","i":182.5,"v":25},{"g":"C","i":183.5,"v":35},{"g":"C","i":184.25,"v":32},{"g":"C","i":186,"v":58},{"g":"C","i":187.25,"v":74},{"g":"C","i":188.5,"v":64},{"g":"C","i":190,"v":72},{"g":"C","i":191.75,"v":73},{"g":"C","i":193,"v":76},{"g":"C","i":194.25,"v":63},{"g":"C","i":195.5,"v":72},{"g":"C","i":196.75,"v":56},{"g":"C","i":198.5,"v":71},{"g":"C","i":199.25,"v":60},{"g":"C","i":200.5,"v":46},{"g":"C","i":201.75,"v":74},{"g":"C","i":202.5,"v":46},{"g":"C","i":203.75,"v":46},{"g":"C","i":205,"v":60},{"g":"C","i":206.25,"v":67},{"g":"C","i":207.25,"v":12},{"g":"C","i":208.5,"v":8},{"g":"C","i":209.25,"v":8},{"g":"C","i":210.5,"v":12},{"g":"C","i":211,"v":20},
{"g":"G","i":15.5,"v":78},{"g":"G","i":19.25,"v":66.1},{"g":"G","i":24.25,"v":61},{"g":"G","i":26.75,"v":57.6},{"g":"G","i":30,"v":69.5},{"g":"G","i":32.5,"v":71.2},{"g":"G","i":36.75,"v":57.6},{"g":"G","i":41,"v":52.5},{"g":"G","i":44.25,"v":66.1},{"g":"G","i":47.5,"v":69.5},{"g":"G","i":51,"v":62.7},{"g":"G","i":54.25,"v":54.2},{"g":"G","i":57.5,"v":57.6},{"g":"G","i":61,"v":62.7},{"g":"G","i":64.25,"v":69.5},{"g":"G","i":67.5,"v":57.6},{"g":"G","i":71,"v":45.8},{"g":"G","i":74.25,"v":37.3},{"g":"G","i":79.25,"v":49.2},{"g":"G","i":84.25,"v":44.1},{"g":"G","i":89.25,"v":61},{"g":"G","i":94.25,"v":45.8},{"g":"G","i":99.25,"v":61},{"g":"G","i":104.25,"v":74.6},{"g":"G","i":109.25,"v":71.2},{"g":"G","i":114.25,"v":67.8},{"g":"G","i":119.25,"v":61},{"g":"G","i":124.25,"v":67.8},{"g":"G","i":129.25,"v":88.1},{"g":"G","i":134.25,"v":83},{"g":"G","i":139.25,"v":84.7},{"g":"G","i":144.25,"v":81.4},{"g":"G","i":149.25,"v":79.7},{"g":"G","i":154.25,"v":84.7},{"g":"G","i":159.25,"v":96.6},{"g":"G","i":166,"v":91.5},{"g":"G","i":169.25,"v":74.6},{"g":"G","i":171.25,"v":62.7},{"g":"G","i":174.25,"v":61},{"g":"G","i":179.25,"v":49.2},{"g":"G","i":183.5,"v":52.5},{"g":"G","i":186,"v":69.5},{"g":"G","i":191,"v":74.6},{"g":"G","i":196,"v":66.1},{"g":"G","i":199.25,"v":66.1},{"g":"G","i":204.25,"v":62.7},{"g":"G","i":206.75,"v":79.7},{"g":"G","i":207.5,"v":11.9},{"g":"G","i":210,"v":0},{"g":"G","i":211,"v":10.2},
{"g":"S","i":15.5,"v":82},{"g":"S","i":19.25,"v":72},{"g":"S","i":24.25,"v":66},{"g":"S","i":26.75,"v":62},{"g":"S","i":30,"v":73},{"g":"S","i":32.5,"v":76},{"g":"S","i":36.75,"v":63},{"g":"S","i":41,"v":58},{"g":"S","i":44.25,"v":70},{"g":"S","i":47.5,"v":73},{"g":"S","i":51,"v":67},{"g":"S","i":54.25,"v":60},{"g":"S","i":57.5,"v":62},{"g":"S","i":61,"v":67},{"g":"S","i":64.25,"v":74},{"g":"S","i":67.5,"v":62},{"g":"S","i":71,"v":51},{"g":"S","i":74.25,"v":43},{"g":"S","i":79.25,"v":54},{"g":"S","i":84.25,"v":49},{"g":"S","i":89.25,"v":66},{"g":"S","i":94.25,"v":51},{"g":"S","i":99.25,"v":66},{"g":"S","i":104.25,"v":79},{"g":"S","i":109.25,"v":76},{"g":"S","i":114.25,"v":72},{"g":"S","i":119.25,"v":66},{"g":"S","i":124.25,"v":72},{"g":"S","i":129.25,"v":92},{"g":"S","i":134.25,"v":88},{"g":"S","i":139.25,"v":89},{"g":"S","i":144.25,"v":86},{"g":"S","i":149.25,"v":84},{"g":"S","i":154.25,"v":89},{"g":"S","i":159.25,"v":99},{"g":"S","i":166,"v":95},{"g":"S","i":169.25,"v":79},{"g":"S","i":171.25,"v":68},{"g":"S","i":174.25,"v":66},{"g":"S","i":179.25,"v":54},{"g":"S","i":183.5,"v":57},{"g":"S","i":186,"v":74},{"g":"S","i":191,"v":79},{"g":"S","i":196,"v":71},{"g":"S","i":199.25,"v":71},{"g":"S","i":204.25,"v":68},{"g":"S","i":206.75,"v":84},{"g":"S","i":207.5,"v":16},{"g":"S","i":210,"v":3},{"g":"S","i":211,"v":14}
],
"BD":[
{"i":0,"lo":70,"hi":85},{"i":5,"lo":45,"hi":65},{"i":10,"lo":60,"hi":80},{"i":15.5,"lo":30,"hi":82},{"i":19.25,"lo":40,"hi":72},{"i":24.25,"lo":22,"hi":66},{"i":26.75,"lo":28,"hi":62},{"i":30,"lo":50,"hi":73},{"i":32.5,"lo":58,"hi":76},{"i":36.75,"lo":30,"hi":63},{"i":41,"lo":25,"hi":58},{"i":44.25,"lo":55,"hi":70},{"i":47.5,"lo":62,"hi":73},{"i":51,"lo":40,"hi":67},{"i":54.25,"lo":40,"hi":60},{"i":57.5,"lo":50,"hi":62},{"i":61,"lo":55,"hi":67},{"i":64.25,"lo":55,"hi":74},{"i":67.5,"lo":22,"hi":62},{"i":71,"lo":20,"hi":51},{"i":74.25,"lo":12,"hi":43},{"i":79.25,"lo":40,"hi":54},{"i":84.25,"lo":20,"hi":49},{"i":89.25,"lo":50,"hi":66},{"i":94.25,"lo":20,"hi":51},{"i":99.25,"lo":50,"hi":66},{"i":104.25,"lo":70,"hi":79},{"i":109.25,"lo":62,"hi":76},{"i":114.25,"lo":58,"hi":72},{"i":119.25,"lo":44,"hi":66},{"i":124.25,"lo":58,"hi":72},{"i":129.25,"lo":84,"hi":92},{"i":134.25,"lo":66,"hi":88},{"i":139.25,"lo":78,"hi":89},{"i":144.25,"lo":74,"hi":86},{"i":149.25,"lo":62,"hi":84},{"i":154.25,"lo":58,"hi":89},{"i":159.25,"lo":82,"hi":99},{"i":166,"lo":76,"hi":95},{"i":169.25,"lo":46,"hi":79},{"i":171.25,"lo":20,"hi":68},{"i":174.25,"lo":18,"hi":66},{"i":179.25,"lo":20,"hi":54},{"i":183.5,"lo":26,"hi":57},{"i":186,"lo":55,"hi":74},{"i":191,"lo":66,"hi":79},{"i":196,"lo":50,"hi":71},{"i":199.25,"lo":50,"hi":71},{"i":204.25,"lo":38,"hi":68},{"i":206.75,"lo":60,"hi":84},{"i":207.5,"lo":5,"hi":16},{"i":210,"lo":0,"hi":3},{"i":211,"lo":4,"hi":14}
]
},
"vconcat":[
{"width":850,"height":350,
 "resolve":{"scale":{"y":"independent"}},
 "layer":[
  {"data":{"name":"C"},"mark":{"type":"bar","size":1,"color":"#32cd32"},
   "encoding":{"x":{"field":"i","type":"quantitative","scale":{"domain":[-0.25,212.25],"nice":false,"zero":false},"axis":null},
   "y":{"field":"v","type":"quantitative","scale":{"domain":[0,350],"nice":false},"axis":null}}},
  {"encoding":{"x":{"field":"i","type":"quantitative","scale":{"domain":[-0.25,212.25],"nice":false,"zero":false},"axis":null},
    "y":{"field":"p","type":"quantitative","scale":{"domain":[11293.3,11459.95],"nice":false,"zero":false},
     "axis":{"orient":"right","values":[11448.5,11433,11417.5,11402,11386.5,11371,11355.5,11340,11324.5,11309],"format":".1f","tickSize":4,"labelPadding":2,"labelOverlap":false,"labelFlush":false,"domain":false,"translate":0.5}}},
   "layer":[
    {"data":{"values":[{"p":11345}]},"mark":{"type":"rule","color":"#778899","strokeWidth":1},"encoding":{"x":null}},
    {"data":{"values":[{"p":11330}]},"mark":{"type":"rule","color":"#32cd32","strokeWidth":1,"strokeDash":[8,3,2,3]},"encoding":{"x":null}},
    {"data":{"name":"C"},"mark":{"type":"rule","color":"#00ff00","strokeWidth":1},
     "encoding":{"y":{"field":"l","type":"quantitative","scale":{"domain":[11293.3,11459.95],"nice":false,"zero":false},
       "axis":{"orient":"right","values":[11448.5,11433,11417.5,11402,11386.5,11371,11355.5,11340,11324.5,11309],"format":".1f","tickSize":4,"labelPadding":2,"labelOverlap":false,"labelFlush":false,"domain":false,"translate":0.5}},
      "y2":{"field":"h"}}},
    {"data":{"name":"C"},"mark":{"type":"bar","size":2,"stroke":"#00ff00","strokeWidth":1},
     "encoding":{"y":{"field":"o","type":"quantitative","scale":{"domain":[11293.3,11459.95],"nice":false,"zero":false},
       "axis":{"orient":"right","values":[11448.5,11433,11417.5,11402,11386.5,11371,11355.5,11340,11324.5,11309],"format":".1f","tickSize":4,"labelPadding":2,"labelOverlap":false,"labelFlush":false,"domain":false,"translate":0.5}},"y2":{"field":"c"},
      "fill":{"condition":{"test":"datum.c > datum.o","value":"#ffffff"},"value":"transparent"}}},
    {"data":{"name":"GR"},"mark":{"type":"line","clip":true,"color":"#696969","strokeWidth":1},"encoding":{"detail":{"field":"s"}}},
    {"data":{"values":[{"i":132.75,"i2":191.75,"p":11442.7,"p2":11373.9}]},"mark":{"type":"rect","color":"#191970","blend":"difference"},"encoding":{"x2":{"field":"i2"},"y2":{"field":"p2"}}},
    {"data":{"name":"L"},"mark":{"type":"line","clip":true},
     "encoding":{"color":{"field":"s","type":"nominal","legend":null,"scale":{"domain":["W1","W2","T1","T2a","T2b","CU","CL","Y","R","O","G"],"range":["#f0f0f0","#f0f0f0","#00a0b0","#00a0b0","#00a0b0","#40d8ec","#40d8ec","#ffff00","#ff0000","#ffa500","#32cd32"]}},
      "strokeWidth":{"field":"s","type":"nominal","legend":null,"scale":{"domain":["W1","W2","T1","T2a","T2b","CU","CL","Y","R","O","G"],"range":[1,1,1.3,1.3,1.3,1.2,1.2,2,2,1.5,1]}}}},
    {"data":{"values":[{"i":196.5,"p":11434.7},{"i":207.25,"p":11411.8}]},"mark":{"type":"line","color":"#1e90ff","strokeWidth":1,"strokeDash":[2,2]},"encoding":{}},
    {"data":{"values":[{"i":28.75,"p":11337.6},{"i":194,"p":11439.5},{"i":208.75,"p":11327.6}]},"mark":{"type":"point","shape":"triangle-up","size":60,"filled":true,"color":"#1e6fd0","stroke":"#ffffff","strokeWidth":1,"opacity":1},"encoding":{}},
    {"data":{"values":[{"i":29.75,"p":11343.3},{"i":208,"p":11410.4}]},"mark":{"type":"point","shape":"triangle-down","size":60,"filled":true,"color":"#e8401c","stroke":"#ffffff","strokeWidth":1,"opacity":1},"encoding":{}},
    {"data":{"values":[{"i":14.75,"p":11362.3}]},"mark":{"type":"point","shape":"square","size":22,"filled":true,"color":"#ffffff","stroke":"#20c0d0","strokeWidth":1.5,"opacity":1},"encoding":{}},
    {"data":{"values":[{"i":1,"p":11455.2,"t":"Ger30Jun15,M2"},{"i":1,"p":11449.5,"t":"over limit,20.43147208121828 count:0"},{"i":1,"p":11330.9,"t":"buy 0.01"}]},"mark":{"type":"text","align":"left","baseline":"alphabetic","color":"#ffffff","font":"Liberation Sans","fontSize":10},"encoding":{"text":{"field":"t"}}},
    {"data":{"values":[{"i":213,"i2":220.5,"p":11347.2,"p2":11342.8}]},"mark":{"type":"rect","color":"#708090","clip":false},"encoding":{"x2":{"field":"i2"},"y2":{"field":"p2"}}},
    {"data":{"values":[{"i":213.5,"p":11345,"t":"11345.0"}]},"mark":{"type":"text","align":"left","baseline":"middle","color":"#ffffff","font":"Liberation Sans","fontSize":9,"clip":false},"encoding":{"text":{"field":"t"}}}
   ]}
 ]},
{"width":850,"height":59,
 "encoding":{"x":{"field":"i","type":"quantitative","scale":{"domain":[-0.25,212.25],"nice":false,"zero":false},
   "axis":{"orient":"bottom","values":[0,16,32,48,64,80,96,112,128,144,160,176,192,208],"labelExpr":"['11 Jun 2015','11 Jun 10:06','11 Jun 10:38','11 Jun 11:10','11 Jun 11:42','11 Jun 12:14','11 Jun 12:46','11 Jun 13:18','11 Jun 13:50','11 Jun 14:22','11 Jun 14:54','11 Jun 15:26','11 Jun 15:58','11 Jun 16:30'][round(datum.value/16)]","tickSize":5,"labelAlign":"left","labelBaseline":"top","labelPadding":2,"labelOffset":2,"labelFlush":false,"labelOverlap":false,"labelBound":false,"domain":false}},
  "y":{"field":"v","type":"quantitative","scale":{"domain":[0,100],"nice":false,"zero":false},
   "axis":{"orient":"right","values":[100,78,70,30,22,0],"format":".2f","tickSize":4,"labelPadding":2,"labelOverlap":false,"labelFlush":true,"domain":false,"translate":0.5}}},
 "layer":[
  {"data":{"name":"BD"},"mark":{"type":"area","color":"#2e2e2e","clip":true},"encoding":{"y":{"field":"lo","type":"quantitative","scale":{"domain":[0,100],"nice":false,"zero":false},
   "axis":{"orient":"right","values":[100,78,70,30,22,0],"format":".2f","tickSize":4,"labelPadding":2,"labelOverlap":false,"labelFlush":true,"domain":false,"translate":0.5}},"y2":{"field":"hi"}}},
  {"data":{"values":[{"v":78},{"v":70},{"v":30},{"v":22}]},"mark":{"type":"rule","color":"#c8c8c8","strokeWidth":1,"strokeDash":[4,3]},"encoding":{"x":null}},
  {"data":{"name":"Q"},"mark":{"type":"line","clip":true},
   "encoding":{"color":{"field":"g","type":"nominal","legend":null,"scale":{"domain":["S","G","C","Y"],"range":["#8a9aaa","#32cd32","#00d0e0","#ffff00"]}},
    "strokeWidth":{"field":"g","type":"nominal","legend":null,"scale":{"domain":["S","G","C","Y"],"range":[1,1.2,1.5,1.5]}}}},
  {"data":{"values":[{"i":0,"v":77,"t":"GRSI(N:4) 25.76 6.76 25.27 20.43 14.35 14.21"}]},"mark":{"type":"text","align":"left","baseline":"alphabetic","color":"#ffffff","font":"Liberation Sans","fontSize":9.5},"encoding":{"text":{"field":"t"}}}
 ]}
]
}
